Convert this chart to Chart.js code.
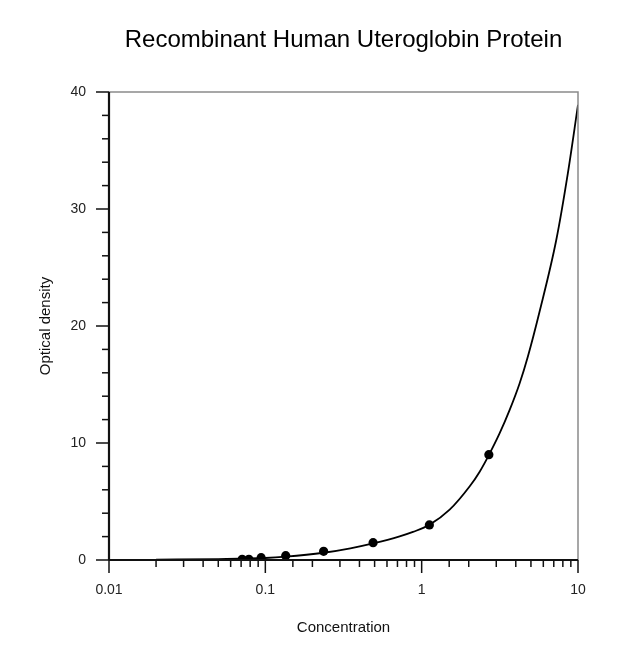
<!DOCTYPE html>
<html>
<head>
<meta charset="utf-8">
<script src="https://cdn.jsdelivr.net/npm/chart.js@4.4.1/dist/chart.umd.min.js"></script>
<style>
  html, body { margin: 0; padding: 0; background: #fff; }
  #wrap { width: 636px; height: 645px; position: relative; }
</style>
</head>
<body>
<div id="wrap"><canvas id="odChart"></canvas></div>
<script>
// measured standards
const concX = [0.0711, 0.0785, 0.094, 0.135, 0.236, 0.489, 1.12, 2.69];
const odY = [0.06, 0.06, 0.2, 0.37, 0.74, 1.48, 3.0, 9.0];

// fitted curve
const fitX = [0.02, 0.05, 0.1, 0.135, 0.236, 0.35, 0.489, 0.723, 0.88, 1.12, 1.51, 2.03, 2.35, 2.69, 3.15, 3.65, 4.23, 4.78, 5.67, 7.26, 8.61, 10];
const fitY = [0.03, 0.08, 0.17, 0.28, 0.62, 1.0, 1.42, 2.02, 2.4, 3.0, 4.3, 6.3, 7.55, 8.97, 10.82, 12.81, 15.09, 17.4, 21.2, 27.35, 33.05, 38.9];

const xTickLabels = ["0.01", "0.1", "1", "10"];
const yTickLabels = ["0", "10", "20", "30", "40"];

const FONT = "'Liberation Sans', Arial, sans-serif";

const axisDecor = {
    id: "axisDecor",
    afterDraw(chart) {
        const { ctx, chartArea: a, scales: { x, y } } = chart;
        ctx.save();
        // frame top + right
        ctx.strokeStyle = "#8a8a8a";
        ctx.lineWidth = 1.5;
        ctx.beginPath();
        ctx.moveTo(a.left, a.top); ctx.lineTo(a.right, a.top); ctx.lineTo(a.right, a.bottom);
        ctx.stroke();

        ctx.strokeStyle = "#111";
        ctx.lineWidth = 1.5;
        // x ticks
        x.ticks.forEach(t => {
            const px = x.getPixelForValue(t.value);
            const lg = Math.log10(t.value);
            const major = Math.abs(lg - Math.round(lg)) < 1e-6;
            ctx.beginPath();
            ctx.moveTo(px, a.bottom); ctx.lineTo(px, a.bottom + (major ? 13 : 7));
            ctx.stroke();
        });
        // y ticks
        for (let v = 0; v <= 40; v += 2) {
            const py = y.getPixelForValue(v);
            const major = v % 10 === 0;
            ctx.beginPath();
            ctx.moveTo(a.left, py); ctx.lineTo(a.left - (major ? 13 : 7), py);
            ctx.stroke();
        }
        // axes
        ctx.lineWidth = 2.2;
        ctx.beginPath();
        ctx.moveTo(a.left, a.top); ctx.lineTo(a.left, a.bottom);
        ctx.moveTo(a.left, a.bottom); ctx.lineTo(a.right, a.bottom);
        ctx.stroke();

        // title
        ctx.fillStyle = "#000";
        ctx.font = "24px " + FONT;
        ctx.textAlign = "center";
        ctx.textBaseline = "middle";
        ctx.fillText("Recombinant Human Uteroglobin Protein", (a.left + a.right) / 2, 40);
        ctx.restore();
    }
};

new Chart(document.getElementById("odChart"), {
    type: "scatter",
    data: {
        datasets: [
            {
                label: "fit",
                data: fitX.map((v, i) => ({ x: v, y: fitY[i] })),
                showLine: true,
                borderColor: "#000",
                borderWidth: 1.8,
                pointRadius: 0,
                cubicInterpolationMode: "monotone"
            },
            {
                label: "standards",
                data: concX.map((v, i) => ({ x: v, y: odY[i] })),
                pointRadius: 4.6,
                pointBackgroundColor: "#000",
                pointBorderColor: "#000",
                borderWidth: 0
            }
        ]
    },
    options: {
        responsive: true,
        maintainAspectRatio: false,
        animation: false,
        layout: { padding: { top: 92, right: 58, left: 0, bottom: 0 } },
        plugins: { legend: { display: false }, tooltip: { enabled: false } },
        scales: {
            x: {
                type: "logarithmic",
                min: 0.01,
                max: 10,
                grid: { display: false },
                border: { display: false },
                afterFit: s => { s.height = 85; },
                ticks: {
                    autoSkip: false,
                    maxRotation: 0,
                    padding: 14,
                    color: "#222",
                    font: { family: FONT, size: 14 },
                    callback: v => {
                        const lg = Math.log10(v);
                        if (Math.abs(lg - Math.round(lg)) > 1e-6) return "";
                        return xTickLabels[Math.round(lg) + 2] ?? "";
                    }
                },
                title: {
                    display: true,
                    text: "Concentration",
                    color: "#111",
                    font: { family: FONT, size: 15 },
                    padding: { top: 0, bottom: 8 }
                }
            },
            y: {
                min: 0,
                max: 40,
                grid: { display: false },
                border: { display: false },
                afterFit: s => { s.width = 109; },
                ticks: {
                    stepSize: 10,
                    padding: 15,
                    color: "#222",
                    font: { family: FONT, size: 14 },
                    callback: v => yTickLabels[v / 10] ?? ""
                },
                title: {
                    display: true,
                    text: "Optical density",
                    color: "#111",
                    font: { family: FONT, size: 15 },
                    padding: { top: 37, bottom: 0 }
                }
            }
        }
    },
    plugins: [axisDecor]
});
</script>
</body>
</html>
